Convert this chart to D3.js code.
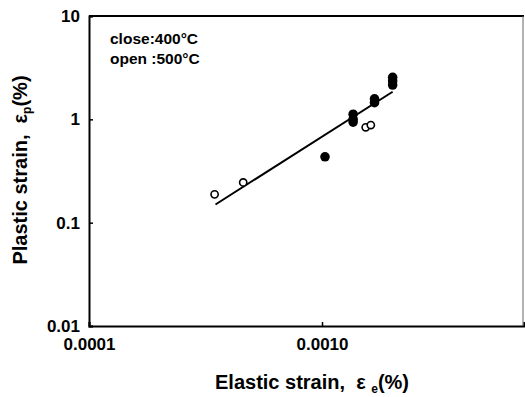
<!DOCTYPE html>
<html>
<head>
<meta charset="utf-8">
<script src="https://cdn.jsdelivr.net/npm/d3@7"></script>
<style>
  body { margin: 0; background: #fff; }
  svg { display: block; font-family: Arial, "Liberation Sans", sans-serif; font-weight: bold; }
  text { white-space: pre; }
</style>
</head>
<body>
<div id="chart"></div>
<script>
// open circles: 500°C
const openX = [0.000346, 0.000459, 0.00154, 0.00162];
const openY = [0.188, 0.245, 0.837, 0.88];
// closed circles: 400°C
const closeX = [0.00103, 0.00136, 0.00136, 0.00136, 0.00168, 0.00168, 0.00201, 0.00201, 0.00201];
const closeY = [0.434, 1.12, 1.0, 0.94, 1.58, 1.45, 2.55, 2.35, 2.15];
// fitted line endpoints
const fitX = [0.000349, 0.00201];
const fitY = [0.150, 1.85];

const xTicks = [0.0001, 0.001];
const xTickLabels = ['0.0001', '0.0010'];
const yTicks = [0.01, 0.1, 1, 10];
const yTickLabels = ['0.01', '0.1', '1', '10'];
const legendLines = ['close:400°C', 'open :500°C'];

const width = 525, height = 397;
const margin = { left: 89, right: 1, top: 16, bottom: 71 };

const svg = d3.select('#chart').append('svg')
  .attr('width', width)
  .attr('height', height);

const x = d3.scaleLog()
  .domain([0.0001, 0.00736])
  .range([margin.left, width - margin.right]);
const y = d3.scaleLog()
  .domain([0.01, 10])
  .range([height - margin.bottom, margin.top]);

// frame
svg.append('line')
  .attr('x1', x.range()[0]).attr('x2', x.range()[1])
  .attr('y1', margin.top).attr('y2', margin.top)
  .attr('stroke', '#000').attr('stroke-width', 2);
svg.append('line')
  .attr('x1', x.range()[1] - 1).attr('x2', x.range()[1] - 1)
  .attr('y1', margin.top).attr('y2', height - margin.bottom)
  .attr('stroke', '#666').attr('stroke-width', 1);

// axes
const xAxis = d3.axisBottom(x)
  .tickValues(xTicks)
  .tickSize(-4)
  .tickPadding(12)
  .tickFormat((d, i) => xTickLabels[i]);
const yAxis = d3.axisLeft(y)
  .tickValues(yTicks)
  .tickSize(-4)
  .tickPadding(9)
  .tickFormat((d, i) => yTickLabels[i]);

const gx = svg.append('g')
  .attr('transform', `translate(0,${height - margin.bottom})`)
  .call(xAxis);
const gy = svg.append('g')
  .attr('transform', `translate(${margin.left},0)`)
  .call(yAxis);

[gx, gy].forEach(g => {
  g.select('.domain').attr('stroke-width', 2);
  g.selectAll('.tick line').attr('stroke-width', 1.5);
  g.selectAll('.tick text')
    .style('font-size', '17px')
    .style('font-weight', 'bold')
    .attr('fill', '#000');
});

// fitted line
svg.append('path')
  .datum(fitX.map((v, i) => [v, fitY[i]]))
  .attr('fill', 'none')
  .attr('stroke', '#000')
  .attr('stroke-width', 2)
  .attr('d', d3.line().x(d => x(d[0])).y(d => y(d[1])));

// closed points
svg.append('g').selectAll('circle')
  .data(closeX.map((v, i) => [v, closeY[i]]))
  .join('circle')
  .attr('cx', d => x(d[0]))
  .attr('cy', d => y(d[1]))
  .attr('r', 4.8)
  .attr('fill', '#000');

// open points
svg.append('g').selectAll('circle')
  .data(openX.map((v, i) => [v, openY[i]]))
  .join('circle')
  .attr('cx', d => x(d[0]))
  .attr('cy', d => y(d[1]))
  .attr('r', 3.6)
  .attr('fill', '#fff')
  .attr('stroke', '#000')
  .attr('stroke-width', 1.6);

// legend text
svg.append('g').selectAll('text')
  .data(legendLines)
  .join('text')
  .attr('x', 110)
  .attr('y', (d, i) => 44 + i * 20)
  .style('font-size', '15.5px')
  .text(d => d);

// axis titles
const xt = svg.append('text')
  .attr('x', 312)
  .attr('y', 389)
  .attr('text-anchor', 'middle')
  .style('font-size', '20px');
xt.append('tspan').text('Elastic strain,  ε ');
xt.append('tspan').attr('dy', 4).style('font-size', '12px').text('e');
xt.append('tspan').attr('dy', -4).text('(%)');

const yt = svg.append('text')
  .attr('transform', 'translate(27,170) rotate(-90)')
  .attr('text-anchor', 'middle')
  .style('font-size', '20px');
yt.append('tspan').text('Plastic strain,  ε');
yt.append('tspan').attr('dy', 4).style('font-size', '12px').text('p');
yt.append('tspan').attr('dy', -4).text('(%)');
</script>
</body>
</html>
